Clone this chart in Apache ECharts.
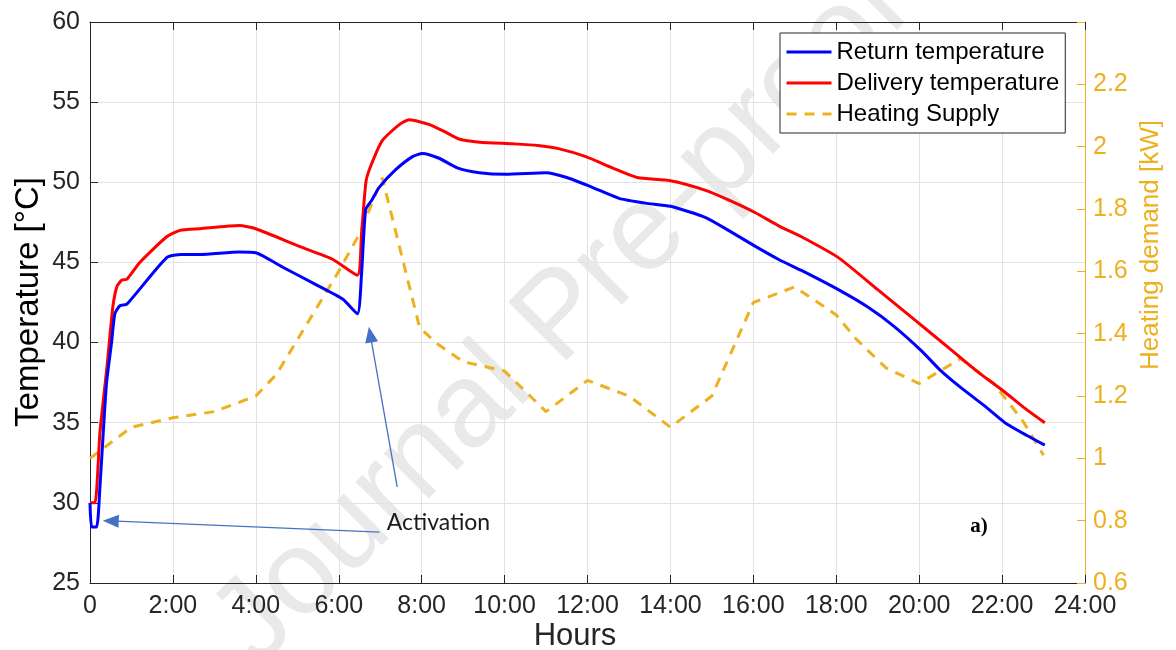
<!DOCTYPE html>
<html>
<head>
<meta charset="utf-8">
<script src="https://cdn.jsdelivr.net/npm/echarts@6/dist/echarts.min.js"></script>
<style>
  html, body { margin: 0; padding: 0; background: #fff; }
  #chart { width: 1176px; height: 650px; }
</style>
</head>
<body>
<div id="chart"></div>
<script>
// hours of day and readings
const returnHours = [0, 0.04, 0.16, 0.24, 0.32, 0.40, 0.52, 0.60, 0.72, 0.89, 1.85, 2.2, 2.65, 3.6, 4.0, 4.65, 5.46, 6.1, 6.45, 6.55, 6.65, 6.8, 6.98, 7.38, 7.78, 8.02, 8.42, 8.86, 9.39, 10.03, 11.0, 11.5, 12.1, 12.76, 13.4, 14.0, 14.85, 15.4, 16.05, 16.6, 17.16, 18.05, 18.77, 19.4, 20.05, 20.5, 21.0, 21.6, 22.07, 22.6, 23.03];
const returnTemp  = [30.0, 28.5, 28.5, 31.0, 34.4, 37.5, 40.0, 41.8, 42.3, 42.4, 45.3, 45.5, 45.5, 45.65, 45.6, 44.7, 43.6, 42.7, 41.8, 44.3, 48.3, 48.9, 49.7, 50.8, 51.6, 51.8, 51.5, 50.9, 50.6, 50.5, 50.6, 50.3, 49.7, 49.0, 48.7, 48.5, 47.8, 47.0, 46.0, 45.2, 44.5, 43.3, 42.2, 41.0, 39.5, 38.3, 37.2, 36.0, 35.0, 34.2, 33.6];

const deliveryHours = [0, 0.12, 0.24, 0.41, 0.55, 0.65, 0.77, 0.89, 1.2, 1.85, 2.17, 2.65, 3.6, 4.0, 5.05, 5.85, 6.45, 6.55, 6.66, 6.8, 7.05, 7.46, 7.7, 8.19, 8.6, 8.9, 9.4, 10.2, 10.8, 11.3, 11.96, 12.6, 13.2, 14.0, 14.85, 15.4, 16.05, 16.6, 17.16, 18.05, 19.0, 19.9, 20.7, 21.35, 22.07, 22.6, 23.03];
const deliveryTemp  = [30.0, 30.0, 34.4, 38.5, 42.2, 43.5, 43.9, 43.95, 45.0, 46.6, 47.0, 47.1, 47.3, 47.1, 46.0, 45.2, 44.2, 46.8, 50.1, 51.2, 52.6, 53.6, 53.9, 53.6, 53.1, 52.7, 52.5, 52.4, 52.3, 52.1, 51.6, 50.9, 50.3, 50.1, 49.5, 48.9, 48.1, 47.3, 46.6, 45.3, 43.3, 41.4, 39.7, 38.3, 36.9, 35.8, 35.0];

const supplyHours = [0, 0.4, 1.0, 2.0, 3.0, 4.0, 4.5, 5.0, 5.5, 6.0, 6.5, 7.05, 7.95, 8.35, 9.0, 10.0, 11.0, 12.0, 13.0, 14.0, 15.0, 16.0, 17.0, 18.0, 18.5, 19.2, 20.0, 21.0, 21.8, 22.5, 23.0];
const supplyKW    = [1.0, 1.04, 1.10, 1.13, 1.15, 1.20, 1.27, 1.38, 1.49, 1.60, 1.72, 1.90, 1.42, 1.37, 1.31, 1.28, 1.15, 1.25, 1.20, 1.10, 1.20, 1.50, 1.55, 1.46, 1.38, 1.29, 1.24, 1.32, 1.24, 1.12, 1.01];

const hourTicks = [0, 24, 2];
const tempTicks = [25, 60, 5];
const kwTicks = [0.6, 2.4, 0.2];

const pair = (xs, ys) => xs.map((x, i) => [x, ys[i]]);

const darkGray = '#262626';
const orange = '#EDB120';
const arrowBlue = '#4472C4';
const sans = 'Liberation Sans, Arial, sans-serif';

const chart = echarts.init(document.getElementById('chart'));

chart.setOption({
  animation: false,
  backgroundColor: '#fff',
  grid: { left: 90, top: 22, right: 91, bottom: 67 },
  legend: {
    orient: 'vertical',
    left: 780,
    top: 33,
    padding: [7, 6, 7, 5],
    itemWidth: 45,
    itemHeight: 14,
    itemGap: 7,
    backgroundColor: '#fff',
    borderColor: darkGray,
    borderWidth: 1,
    borderRadius: 0,
    itemStyle: { opacity: 0 },
    lineStyle: { width: 3 },
    textStyle: { fontFamily: sans, fontSize: 24, color: '#000', lineHeight: 24 },
    data: ['Return temperature', 'Delivery temperature', 'Heating Supply']
  },
  xAxis: [
    {
      type: 'value',
      min: hourTicks[0], max: hourTicks[1], interval: hourTicks[2],
      axisLine: { onZero: false, lineStyle: { color: darkGray, width: 1 } },
      axisTick: { inside: true, length: 8, lineStyle: { color: darkGray } },
      axisLabel: {
        margin: 11, color: darkGray, fontFamily: sans, fontSize: 25,
        formatter: v => v === 0 ? '0' : v + ':00'
      },
      splitLine: { show: true, lineStyle: { color: '#e2e2e2', width: 1 } }
    },
    {
      type: 'value', position: 'top',
      min: hourTicks[0], max: hourTicks[1], interval: hourTicks[2],
      axisLine: { show: true, onZero: false, lineStyle: { color: darkGray, width: 1 } },
      axisTick: { show: true, inside: true, length: 8, lineStyle: { color: darkGray } },
      axisLabel: { show: false },
      splitLine: { show: false }
    }
  ],
  yAxis: [
    {
      type: 'value',
      min: tempTicks[0], max: tempTicks[1], interval: tempTicks[2],
      axisLine: { show: true, onZero: false, lineStyle: { color: darkGray, width: 1 } },
      axisTick: { show: true, inside: true, length: 8, lineStyle: { color: darkGray } },
      axisLabel: { margin: 10, color: darkGray, fontFamily: sans, fontSize: 25 },
      splitLine: { show: true, lineStyle: { color: '#e2e2e2', width: 1 } }
    },
    {
      type: 'value', position: 'right',
      min: kwTicks[0], max: kwTicks[1], interval: kwTicks[2],
      axisLine: { show: true, onZero: false, lineStyle: { color: orange, width: 1 } },
      axisTick: { show: true, inside: true, length: 8, lineStyle: { color: orange } },
      axisLabel: {
        margin: 8, color: orange, fontFamily: sans, fontSize: 25,
        formatter: v => Math.abs(v - 2.4) < 1e-6 ? '' : String(Number(v.toFixed(1)))
      },
      splitLine: { show: false }
    }
  ],
  graphic: [
    {
      type: 'text', z: -10,
      x: 562, y: 318,
      rotation: Math.PI / 4,
      style: {
        text: 'Journal Pre-proof', x: 0, y: 0,
        font: '120px "Liberation Sans", Arial, sans-serif',
        fill: '#e9e9e9', align: 'center', verticalAlign: 'middle'
      }
    },
    {
      type: 'text', rotation: Math.PI / 2, x: 29, y: 302,
      style: {
        text: 'Temperature [°C]', x: 0, y: 0,
        font: '33px "Liberation Sans", Arial, sans-serif',
        fill: '#000', align: 'center', verticalAlign: 'middle'
      }
    },
    {
      type: 'text', rotation: Math.PI / 2, x: 1151, y: 245,
      style: {
        text: 'Heating demand [kW]', x: 0, y: 0,
        font: '26px "Liberation Sans", Arial, sans-serif',
        fill: orange, align: 'center', verticalAlign: 'middle'
      }
    },
    {
      type: 'text', x: 575, y: 636,
      style: {
        text: 'Hours', x: 0, y: 0,
        font: '31px "Liberation Sans", Arial, sans-serif',
        fill: darkGray, align: 'center', verticalAlign: 'middle'
      }
    },
    {
      type: 'text', x: 979, y: 527,
      style: {
        text: 'a)', x: 0, y: 0,
        font: 'bold 21px "Liberation Serif", "Times New Roman", serif',
        fill: '#000', align: 'center', verticalAlign: 'middle'
      }
    }
  ],
  series: [
    {
      name: 'Return temperature', type: 'line',
      xAxisIndex: 0, yAxisIndex: 0,
      symbol: 'none', smooth: 0.2, z: 4,
      lineStyle: { color: '#0000FF', width: 3 },
      itemStyle: { color: '#0000FF' },
      data: pair(returnHours, returnTemp),
      markLine: {
        silent: true,
        symbol: ['none', 'triangle'],
        symbolSize: [13, 16],
        label: { show: false },
        lineStyle: { color: arrowBlue, width: 1.3, type: 'solid' },
        data: [
          [{ coord: [6.98, 28.18] }, { coord: [0.5, 28.87] }],
          [{ coord: [7.41, 31.0] }, { coord: [6.76, 40.5] }]
        ]
      },
      markPoint: {
        silent: true,
        symbol: 'circle', symbolSize: 0,
        label: {
          show: true, position: 'right', distance: 0,
          formatter: 'Activation', color: '#1a1a1a',
          fontFamily: 'Lato, "Open Sans", sans-serif', fontSize: 23
        },
        data: [{ coord: [7.16, 28.8] }]
      }
    },
    {
      name: 'Delivery temperature', type: 'line',
      xAxisIndex: 0, yAxisIndex: 0,
      symbol: 'none', smooth: 0.2, z: 3,
      lineStyle: { color: '#FF0000', width: 3 },
      itemStyle: { color: '#FF0000' },
      data: pair(deliveryHours, deliveryTemp)
    },
    {
      name: 'Heating Supply', type: 'line',
      xAxisIndex: 0, yAxisIndex: 1,
      symbol: 'none', z: 2,
      lineStyle: { color: orange, width: 3, type: [10, 8] },
      itemStyle: { color: orange },
      data: pair(supplyHours, supplyKW)
    }
  ]
});
</script>
</body>
</html>
